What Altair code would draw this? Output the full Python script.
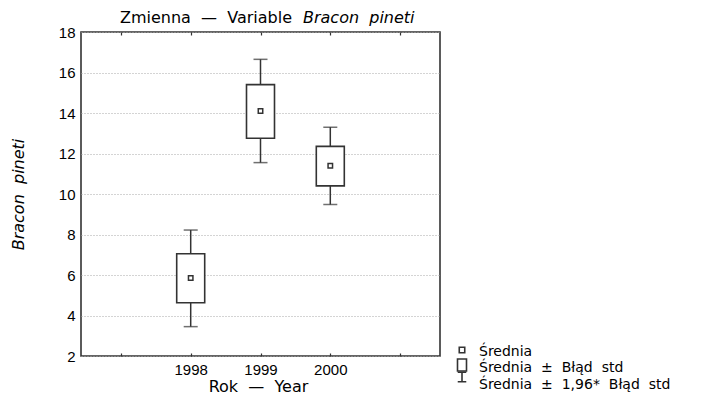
import altair as alt
import pandas as pd

# ---- data ----
years = [1998, 1999, 2000]
mean_vals = [5.85, 14.1, 11.4]
box_low = [4.63, 12.75, 10.4]
box_high = [7.05, 15.4, 12.35]
whisk_low = [3.45, 11.55, 9.48]
whisk_high = [8.22, 16.65, 13.3]
tick_years = [1997, 1998, 1999, 2000, 2001]
y_ticks = [2, 4, 6, 8, 10, 12, 14, 16, 18]

S = " \u00a0"  # wide gap as in the reference typesetting
title_plain = f"Zmienna{S}—{S}Variable"
title_italic = f"Bracon{S}pineti"
x_title = f"Rok{S}—{S}Year"
y_title = f"Bracon{S}pineti"
legend_labels = ["Średnia", f"Średnia{S}±{S}Błąd{S}std", f"Średnia{S}±{S}1,96*{S}Błąd{S}std"]

df = pd.DataFrame({
    "year": years, "mean": mean_vals,
    "blo": box_low, "bhi": box_high,
    "wlo": whisk_low, "whi": whisk_high,
})

C = "#333333"
TXT_FONT = "DejaVu Sans"
NUM_FONT = "Liberation Sans, Arial, sans-serif"

xscale = alt.Scale(domain=[1996.5, 2001.5], nice=False, zero=False)
yscale = alt.Scale(domain=[2, 18], nice=False, zero=False)

bottom_axis = alt.Axis(
    orient="bottom", values=tick_years, offset=-3, tickSize=3, tickWidth=1.2,
    tickColor=C, domain=False, grid=False,
    labelExpr="datum.value >= 1998 && datum.value <= 2000 ? toString(datum.value) : ''",
    labelFont=NUM_FONT, labelFontSize=15, labelColor="black", labelPadding=6,
    title=x_title, titleFont=TXT_FONT, titleFontSize=16, titleFontWeight="normal",
    titleColor="black", titleX=177, titleY=38, titleBaseline="alphabetic",
    titleAlign="center",
)
top_axis = alt.Axis(
    orient="top", values=tick_years, offset=-3, tickSize=3, tickWidth=1.2,
    tickColor=C, domain=False, grid=False, labels=False, title=None,
)
y_axis = alt.Axis(
    values=y_ticks, ticks=False, tickSize=0, domain=False,
    grid=True, gridDash=[1, 2], gridColor="#a8a8a8", gridWidth=1,
    labelFont=NUM_FONT, labelFontSize=15, labelColor="black", labelPadding=6,
    title=y_title, titleFont=TXT_FONT, titleFontSize=16, titleFontStyle="italic",
    titleFontWeight="normal", titleColor="black", titleX=-63, titleY=162,
    titleAngle=270, titleAlign="center", titleBaseline="middle",
)


def Y(field):
    return alt.Y(field, scale=yscale, axis=y_axis)


base = alt.Chart(df)

whiskers = base.mark_rule(color=C, strokeWidth=1.5).encode(
    x=alt.X("year:Q", scale=xscale, axis=bottom_axis),
    y=Y("wlo:Q"),
    y2="whi:Q",
)
cap_lo = base.mark_tick(orient="horizontal", size=14, thickness=1.5, color=C).encode(
    x=alt.X("year:Q", scale=xscale, axis=top_axis),
    y=Y("wlo:Q"),
)
cap_hi = base.mark_tick(orient="horizontal", size=14, thickness=1.5, color=C).encode(
    x=alt.X("year:Q", scale=xscale, axis=None),
    y=Y("whi:Q"),
)
boxes = base.mark_bar(size=28, fill="white", stroke=C, strokeWidth=1.6).encode(
    x=alt.X("year:Q", scale=xscale, axis=None),
    y=Y("blo:Q"),
    y2="bhi:Q",
)
means = base.mark_point(shape="square", size=20, filled=True, fill="white",
                        stroke=C, strokeWidth=1.5, opacity=1).encode(
    x=alt.X("year:Q", scale=xscale, axis=None),
    y=Y("mean:Q"),
)

one = alt.Chart(pd.DataFrame({"k": [0]}))

t_plain = one.mark_text(text=title_plain, font=TXT_FONT, fontSize=16, align="right",
                        baseline="alphabetic", color="black").encode(
    x=alt.value(211), y=alt.value(-9))
t_ital = one.mark_text(text=title_italic, font=TXT_FONT, fontSize=16, fontStyle="italic",
                       align="left", baseline="alphabetic", color="black").encode(
    x=alt.value(222), y=alt.value(-9))

leg_layers = []
leg_y = [323.5, 340, 356.5]
for lab, yy in zip(legend_labels, leg_y):
    leg_layers.append(one.mark_text(text=lab, font=TXT_FONT, fontSize=14, align="left",
                                    baseline="alphabetic", color="black").encode(
        x=alt.value(398), y=alt.value(yy)))

sym_sq = one.mark_point(shape="square", size=30, filled=True, fill="white", stroke=C,
                        strokeWidth=1.6, opacity=1).encode(x=alt.value(381), y=alt.value(318))
sym_box = one.mark_point(shape="M-0.75,-1L0.75,-1L0.75,1L-0.75,1Z", size=144, filled=True,
                         fill="white", stroke=C, strokeWidth=1.6, opacity=1).encode(
    x=alt.value(381), y=alt.value(333))
sym_ibeam = one.mark_point(shape="M-0.9,-1L0.9,-1M0,-1L0,1M-0.9,1L0.9,1", size=90,
                           filled=False, stroke=C, strokeWidth=1.6, opacity=1).encode(
    x=alt.value(381), y=alt.value(345))

chart = alt.layer(
    whiskers, cap_lo, cap_hi, boxes, means,
    t_plain, t_ital, *leg_layers, sym_sq, sym_box, sym_ibeam,
).resolve_axis(x="independent").properties(
    width=359, height=324,
    padding={"left": 81, "top": 32, "right": 261, "bottom": 48},
    autosize=alt.AutoSizeParams(type="none"),
    background="white",
).configure_view(stroke=C, strokeWidth=1.6)

chart.save("out.html", embed_options={"renderer": "svg", "actions": False})
